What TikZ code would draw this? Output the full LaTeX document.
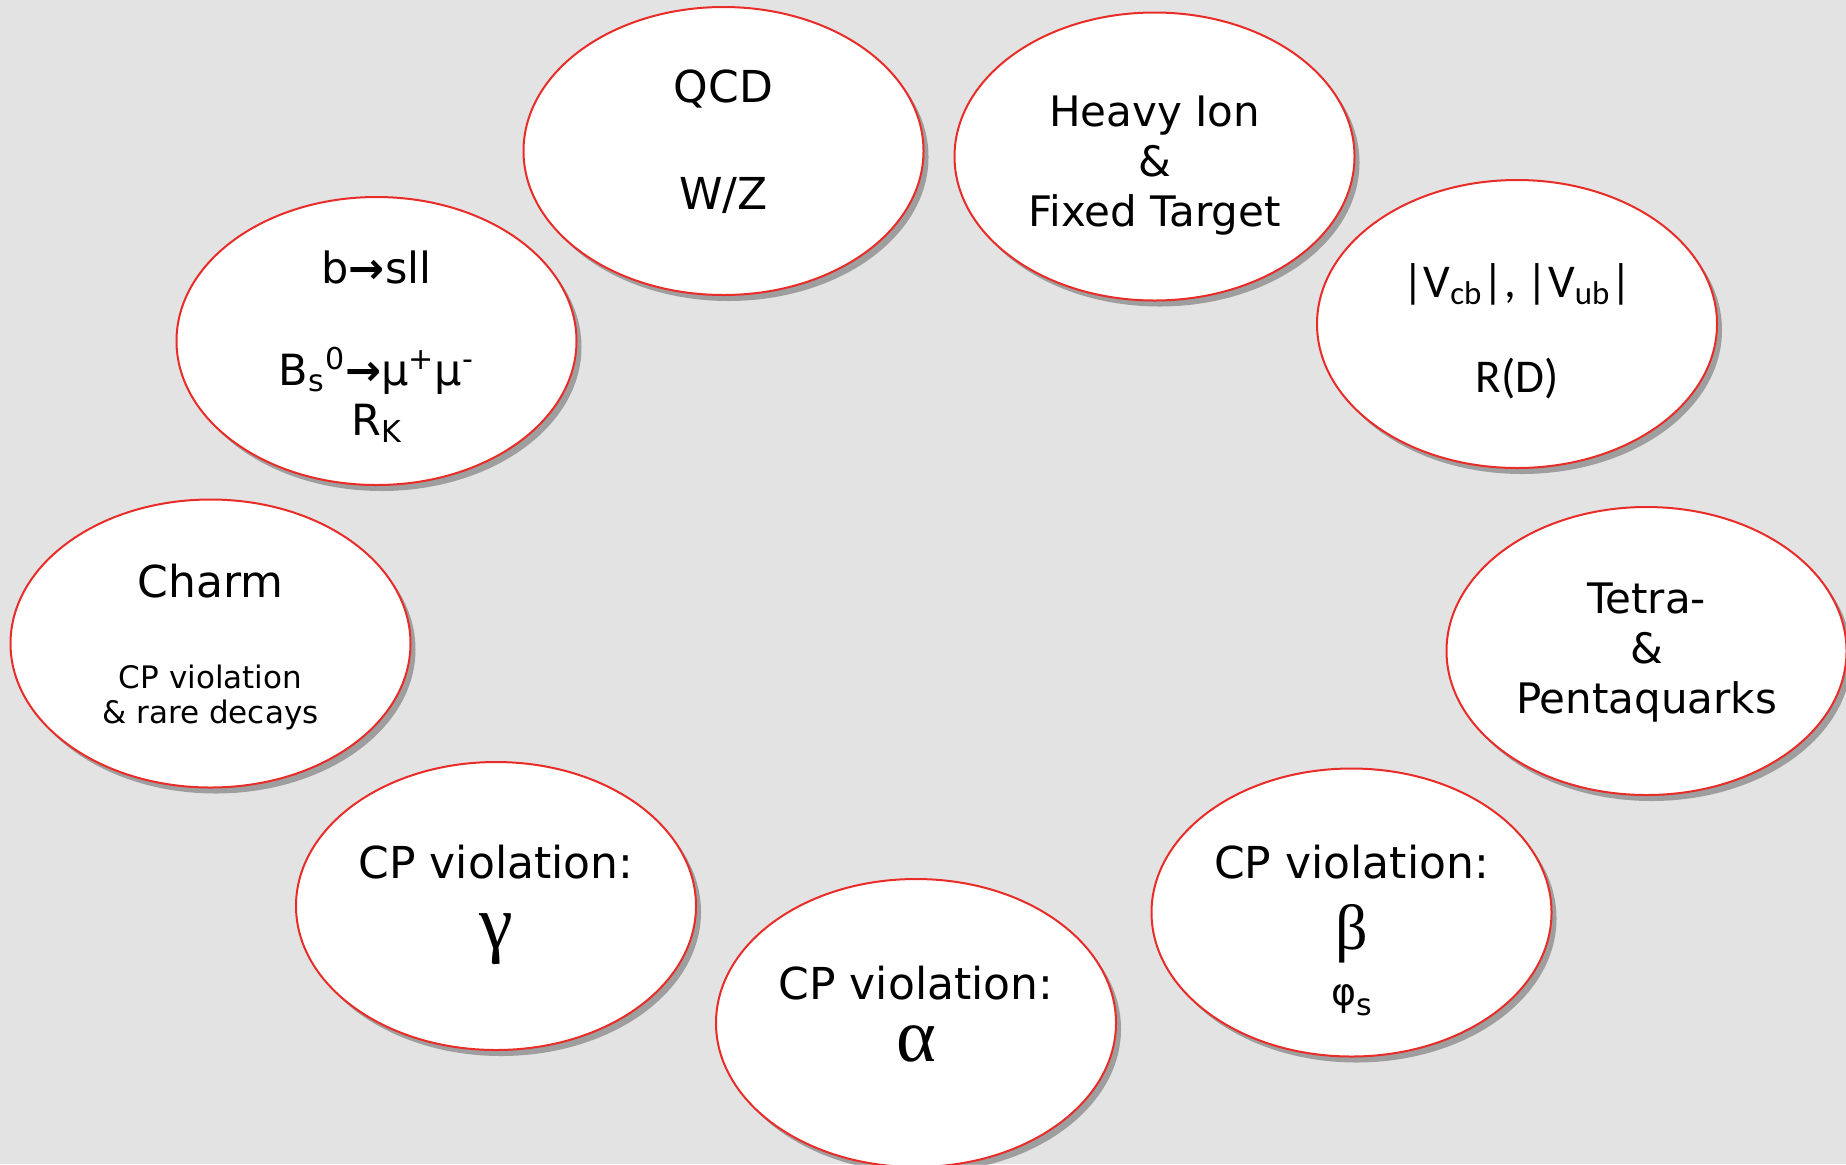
\documentclass[tikz,border=0pt]{standalone}
\usepackage{fontspec}
\setmainfont{DejaVu Sans}
\newfontfamily\grkfont{Liberation Serif}
\newfontfamily\calfont{Carlito}
\usepackage{tikz}
\usetikzlibrary{shapes.geometric, shadows}
\definecolor{cBack}{RGB}{227,227,227}
\definecolor{cRim}{RGB}{232,44,40}
\tikzset{
	topic/.style   ={ellipse, draw=cRim, line width=1pt, fill=white, minimum width=200pt, minimum height=144pt, inner sep=0pt, align=center, text depth=0pt, font=\fontsize{21}{25}\selectfont, drop shadow={shadow xshift=2.5pt, shadow yshift=-3pt, fill=black, opacity=0.3}},
	cptopic/.style ={topic, font=\fontsize{22}{25}\selectfont},
}
% greek angle and small print
\newcommand{\grk}[2]{{\grkfont\fontsize{#1}{#1}\selectfont #2}}
\newcommand{\fine}{\fontsize{15.5}{17.5}\selectfont}

\begin{document}
\begin{tikzpicture}[x=0.5pt, y=-0.5pt]
	\fill[cBack] (0,0) rectangle (1846,1164);
	\useasboundingbox (0,0) rectangle (1846,1164);
	\clip (0,0) rectangle (1846,1164);
	% upper row
	\node[topic, text height=58pt, font=\fontsize{22}{25}\selectfont] (qcd) at (723.5,151) {QCD\\[28.5pt]W/Z};
	\node[topic, text height=69.5pt] (hion) at (1154.5,156.5) {Heavy Ion\\\&\\Fixed Target};
	\node[topic, text height=94pt, font=\fontsize{21.5}{25}\selectfont] (bsll) at (376.5,341) {b{\bfseries →}sll\\[26pt]B\textsubscript{s}\textsuperscript{0}{\bfseries →}μ\textsuperscript{+}μ\textsuperscript{-}\\R\textsubscript{K}};
	\node[topic, text height=68pt, font=\calfont\fontsize{23.5}{25}\selectfont] (vckm) at (1517,324) {|V\textsubscript{cb}|, |V\textsubscript{ub}|\\[22.5pt]R(D)};
	% middle row
	\node[topic, text height=79.5pt, font=\fontsize{22}{25}\selectfont] (charm) at (210.5,643.5) {Charm\\[20.5pt]{\fine CP violation}\\[-7.5pt]{\fine \& rare decays}};
	\node[topic, text height=62pt] (exotic) at (1646.5,651) {Tetra-\\\&\\Pentaquarks};
	% CP violation angles
	\node[cptopic, text height=42pt] (gamma) at (496,906) {CP violation:\\[10pt]\grk{38}{γ}};
	\node[cptopic, text height=92.5pt] (beta) at (1351.5,912.5) {CP violation:\\[10.5pt]\grk{32}{β}\\[3pt]{\fontsize{19}{19}\selectfont φ}\raisebox{-5pt}{\fontsize{15}{15}\selectfont s}};
	\node[cptopic, text height=38pt] (alpha) at (916,1023) {CP violation:\\[6pt]\grk{38}{α}};
\end{tikzpicture}
\end{document}
